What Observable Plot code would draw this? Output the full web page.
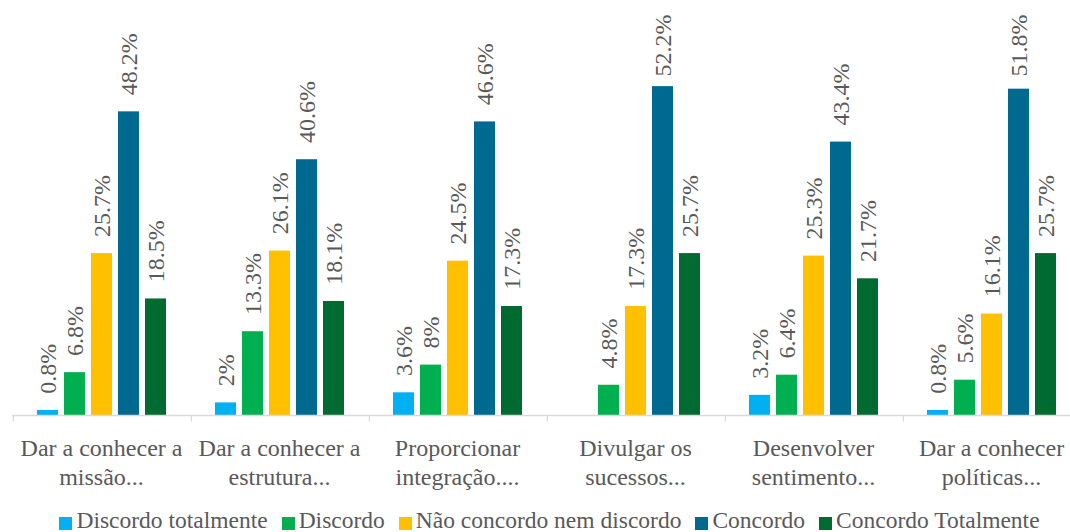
<!DOCTYPE html>
<html>
<head>
<meta charset="utf-8">
<script src="https://cdn.jsdelivr.net/npm/d3@7"></script>
<script src="https://cdn.jsdelivr.net/npm/@observablehq/plot@0.6"></script>
<style>
  html, body { margin: 0; padding: 0; background: #fff; font-family: 'Liberation Serif', serif; }
  #chart { width: 1070px; height: 532px; overflow: hidden; font-family: 'Liberation Serif', serif; }
  .legend { display: flex; justify-content: center; align-items: flex-start; margin-top: 10px; padding-left: 29px; font-size: 23.5px; line-height: 20px; height: 20px; color: #595959; white-space: nowrap; font-family: 'Liberation Serif', serif; }
  .legend .item { display: flex; align-items: flex-start; margin: 0 7px; }
  .legend .sw { display: block; width: 13px; height: 13px; margin-right: 4px; margin-top: 7px; }
</style>
</head>
<body>
<div id="chart"></div>
<script>
const categories = [
  "Dar a conhecer a\nmissão...",
  "Dar a conhecer a\nestrutura...",
  "Proporcionar\nintegração....",
  "Divulgar os\nsucessos...",
  "Desenvolver\nsentimento...",
  "Dar a conhecer\npolíticas..."
];
const seriesNames = ["Discordo totalmente", "Discordo", "Não concordo nem discordo", "Concordo", "Concordo Totalmente"];
const discordoTotalmente = [0.8, 2, 3.6, null, 3.2, 0.8];
const discordo = [6.8, 13.3, 8, 4.8, 6.4, 5.6];
const naoConcordo = [25.7, 26.1, 24.5, 17.3, 25.3, 16.1];
const concordo = [48.2, 40.6, 46.6, 52.2, 43.4, 51.8];
const concordoTotalmente = [18.5, 18.1, 17.3, 25.7, 21.7, 25.7];
const seriesColors = ["#00B0F0", "#00B050", "#FFC000", "#00698F", "#006B31"];

const seriesValues = [discordoTotalmente, discordo, naoConcordo, concordo, concordoTotalmente];
const data = [];
categories.forEach((cat, i) => {
  seriesNames.forEach((s, j) => {
    data.push({cat, series: s, value: seriesValues[j][i]});
  });
});
const shown = data.filter(d => d.value != null);

// layout
const W = 1070, H = 500, mL = 11, mR = -11, mT = 37, mB = 85;
const yMax = 60;
const padInner = 0.23, padOuter = 0.885;
const facetW = (W - mL - mR) / categories.length;
const step = facetW / (seriesNames.length - padInner + 2 * padOuter);
const bw = step * (1 - padInner);
const firstCenter = (facetW - step * (seriesNames.length - padInner)) / 2 + bw / 2;
const pxPerUnit = (H - mT - mB) / yMax;
const labelGap = 16.7 / pxPerUnit;      // gap between bar top and label
const labelCeil = (H - mB - 76) / pxPerUnit; // labels kept inside the chart area

const font = "'Liberation Serif', serif";
const plot = Plot.plot({
  width: W, height: H,
  marginLeft: mL, marginRight: mR, marginTop: mT, marginBottom: mB,
  style: {fontFamily: font, color: "#595959", background: "#fff"},
  fx: {domain: categories, padding: 0},
  x: {domain: seriesNames, paddingInner: padInner, paddingOuter: padOuter, axis: null},
  y: {domain: [0, yMax], axis: null},
  color: {domain: seriesNames, range: seriesColors},
  marks: [
    Plot.barY(shown, {fx: "cat", x: "series", y: "value", fill: "series"}),
    Plot.ruleY([0], {stroke: "#d9d9d9", strokeWidth: 1.3}),
    Plot.ruleX(categories, {fx: d => d, x: () => seriesNames[0], y1: 0, y2: -1, dx: -firstCenter, stroke: "#d9d9d9", strokeWidth: 1.3}),
    Plot.text(shown, {
      fx: "cat", x: "series",
      y: d => Math.min(d.value + labelGap, labelCeil),
      text: d => d.value + "%",
      rotate: -90, textAnchor: "start", lineAnchor: "middle",
      fontSize: 24, fill: "#595959", fontFamily: font
    }),
    Plot.axisFx({anchor: "bottom", tickSize: 0, tickPadding: 20, fontSize: 24, lineHeight: 1.2, color: "#595959", label: null, fontFamily: font})
  ]
});
const chart = document.getElementById("chart");
chart.appendChild(plot);

const legend = document.createElement("div");
legend.className = "legend";
seriesNames.forEach((s, i) => {
  const item = document.createElement("div");
  item.className = "item";
  const sw = document.createElement("span");
  sw.className = "sw";
  sw.style.background = seriesColors[i];
  const t = document.createElement("span");
  t.textContent = s;
  item.appendChild(sw);
  item.appendChild(t);
  legend.appendChild(item);
});
chart.appendChild(legend);
</script>
</body>
</html>
